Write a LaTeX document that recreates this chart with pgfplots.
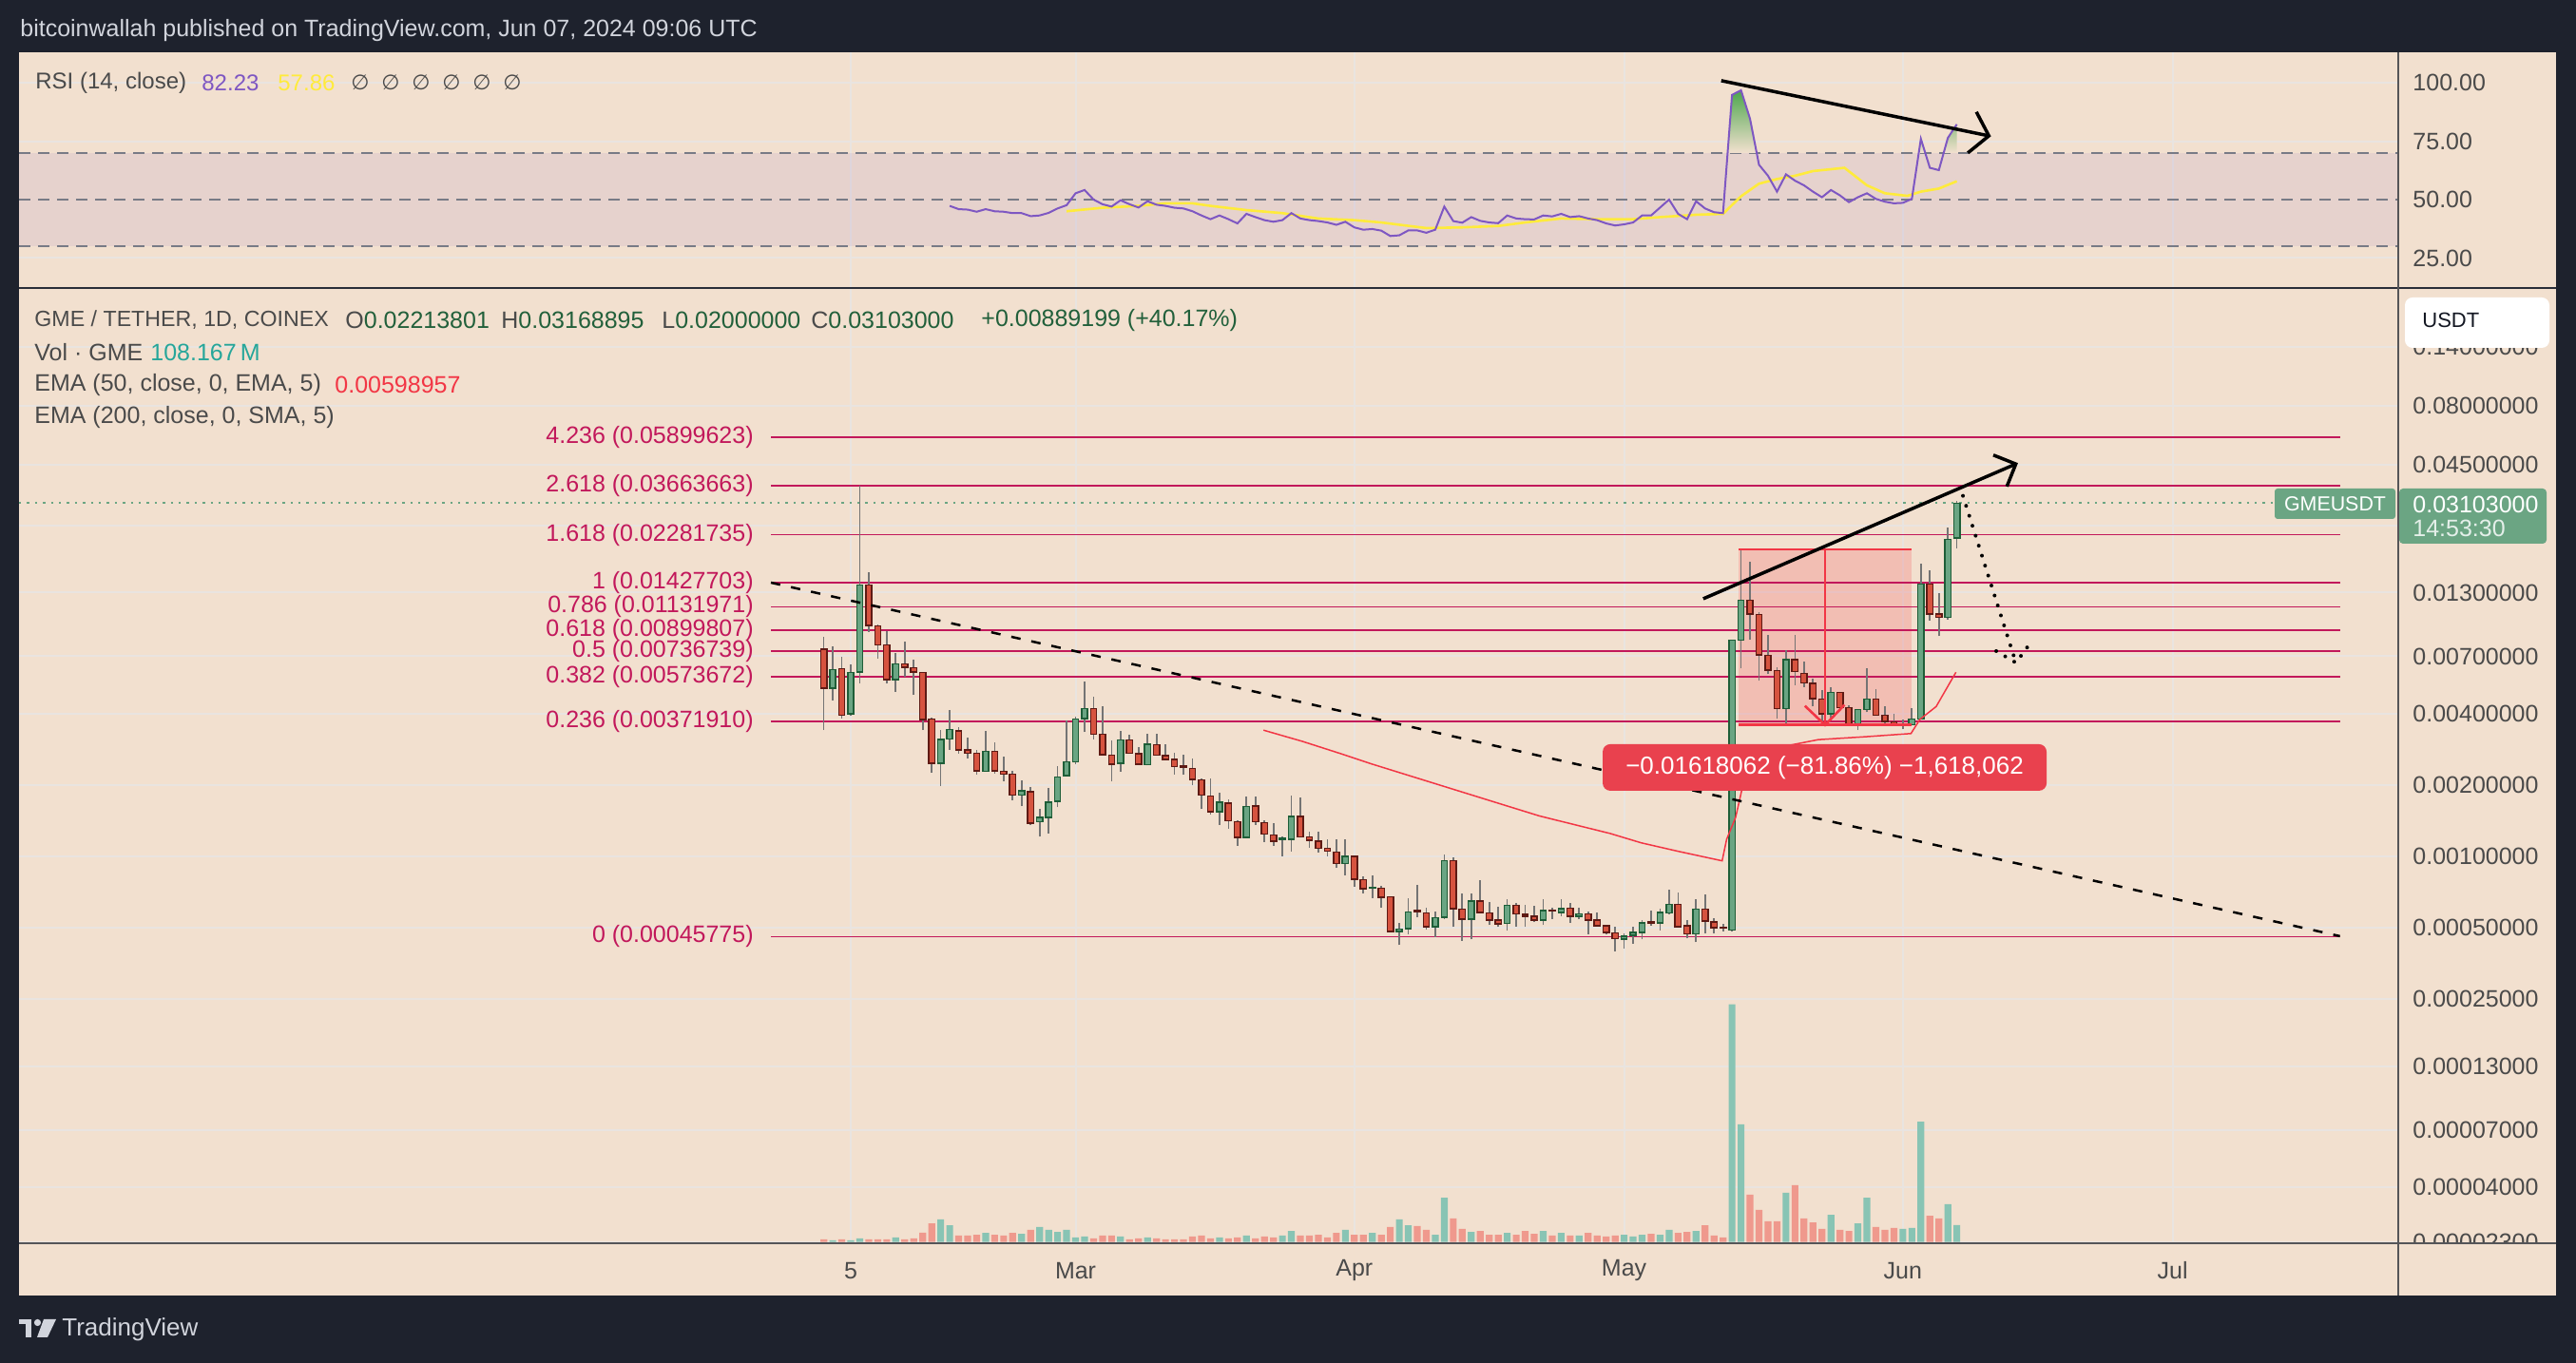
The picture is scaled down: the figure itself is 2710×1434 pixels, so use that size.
\documentclass[border=0pt]{standalone}
\usepackage{pgfplots}
\usepackage{pgfplotstable}
\pgfplotsset{compat=1.18}
\usetikzlibrary{arrows.meta}
\usepackage{fontspec}
\setmainfont{Liberation Sans}
\newfontfamily\dejavu{DejaVu Sans}

\definecolor{framec}{HTML}{1E222D}
\definecolor{panebg}{HTML}{F2E0CF}
\definecolor{gridc}{HTML}{E9E4E0}
\definecolor{sepc}{HTML}{555558}
\definecolor{sepdark}{HTML}{2A2E39}
\definecolor{fibc}{HTML}{C2185B}
\definecolor{upfill}{HTML}{6AA583}
\definecolor{upline}{HTML}{1E5E38}
\definecolor{dnfill}{HTML}{D6533F}
\definecolor{dnline}{HTML}{5E1A14}
\definecolor{wickc}{HTML}{747474}
\definecolor{volup}{HTML}{88C4B4}
\definecolor{voldn}{HTML}{EF998D}
\definecolor{emac}{HTML}{F23645}
\definecolor{rsic}{HTML}{7E57C2}
\definecolor{smac}{HTML}{FFEB3B}
\definecolor{lvlc}{HTML}{787B86}
\definecolor{txtc}{HTML}{4A4A4A}
\definecolor{valgreen}{HTML}{22603B}
\definecolor{headc}{HTML}{D1D4DC}
\definecolor{pricegreen}{HTML}{6BA583}
\definecolor{rangered}{HTML}{F23645}
\definecolor{labelred}{HTML}{E9414E}
\definecolor{volteal}{HTML}{26A69A}
\definecolor{rsigreen}{HTML}{4CA64C}
\definecolor{usdtc}{HTML}{131722}

\newcommand\fs{\fontsize{12.5pt}{15pt}\selectfont}
\newcommand\fss{\fontsize{10.7pt}{12pt}\selectfont}

% d = days since Feb 5 2024 ; g = 1 up / 0 down ; V = volume (M)
\pgfplotstableread{
d g O H L C V
-3 0 0.00748 0.00846 0.00341 0.00513 16.5
-2 1 0.00513 0.00771 0.00454 0.00614 10.4
-1 0 0.00620 0.00694 0.00383 0.00395 16.5
0 1 0.00400 0.00647 0.00391 0.00597 10.4
1 1 0.00601 0.0366 0.00538 0.01397 22.6
2 0 0.01397 0.0158 0.00886 0.00945 16.5
3 0 0.00939 0.00957 0.00682 0.00783 16.5
4 0 0.00780 0.00894 0.00536 0.00558 16.5
5 1 0.00558 0.00725 0.00496 0.00649 28.7
6 0 0.00649 0.00807 0.00575 0.00629 16.5
7 0 0.00627 0.00677 0.00480 0.00601 22.6
8 0 0.00597 0.00600 0.00341 0.00378 59.3
9 0 0.00380 0.00385 0.00225 0.00247 120
10 1 0.00247 0.00343 0.00198 0.00311 145
11 1 0.00313 0.00414 0.00282 0.00343 108
12 0 0.00338 0.00351 0.00272 0.00282 41
13 0 0.00281 0.00316 0.00258 0.00273 41
14 0 0.00273 0.00281 0.00221 0.00230 47
15 1 0.00228 0.00339 0.00228 0.00277 59
16 0 0.00277 0.00303 0.00223 0.00230 47
17 0 0.00229 0.00264 0.00208 0.00222 41
18 0 0.00222 0.00230 0.00172 0.00181 59
19 1 0.00181 0.00209 0.00163 0.00189 53
20 0 0.00187 0.00196 0.00135 0.00138 78
21 1 0.00140 0.00159 0.00121 0.00146 96
22 1 0.00146 0.00195 0.00125 0.00169 78
23 1 0.00171 0.00241 0.00161 0.00216 65
24 1 0.00219 0.00374 0.00218 0.00251 78
25 1 0.00251 0.00389 0.00245 0.00380 29
26 1 0.00382 0.00549 0.00334 0.00420 35
27 0 0.00420 0.00474 0.00311 0.00328 23
28 0 0.00327 0.00432 0.00269 0.00269 41
29 0 0.00267 0.00309 0.00207 0.00245 41
30 1 0.00247 0.00340 0.00228 0.00310 35
31 0 0.00310 0.00327 0.00271 0.00273 16.5
32 0 0.00271 0.00288 0.00245 0.00245 23
33 1 0.00244 0.00329 0.00242 0.00297 29
34 0 0.00296 0.00329 0.00267 0.00267 23
35 0 0.00266 0.00297 0.00256 0.00257 16.5
36 0 0.00256 0.00274 0.00222 0.00239 16.5
37 0 0.00241 0.00269 0.00221 0.00238 16.5
38 0 0.00235 0.00259 0.00199 0.00211 35
39 0 0.00210 0.00214 0.00158 0.00181 41
40 0 0.00180 0.00214 0.00150 0.00154 23
41 1 0.00154 0.00186 0.00136 0.00169 29
42 0 0.00168 0.00174 0.00131 0.00141 23
43 0 0.00140 0.00142 0.00111 0.00120 29
44 1 0.00120 0.00179 0.00120 0.00162 41
45 0 0.00163 0.00179 0.00136 0.00140 23
46 0 0.00139 0.00142 0.00115 0.00124 35
47 0 0.00123 0.00138 0.00111 0.00116 29
48 1 0.00118 0.00121 0.00100 0.00119 41
49 1 0.00118 0.00181 0.00105 0.00147 71
50 0 0.00147 0.00177 0.00120 0.00121 41
51 0 0.00121 0.00127 0.00109 0.00117 41
52 0 0.00116 0.00127 0.00104 0.00108 47
53 0 0.00108 0.00118 0.00100 0.00105 29
54 0 0.00104 0.00118 0.000892 0.000934 59
55 1 0.000934 0.00118 0.000834 0.00100 78
56 0 0.00100 0.00100 0.000746 0.000801 47
57 0 0.000797 0.000826 0.000697 0.000730 47
58 1 0.000734 0.000834 0.000666 0.000740 59
59 0 0.000734 0.000753 0.000607 0.000672 47
60 0 0.000676 0.000676 0.000482 0.000482 96
61 1 0.000482 0.000523 0.000422 0.000492 145
62 1 0.000494 0.000666 0.000470 0.000583 108
63 0 0.000589 0.000758 0.000553 0.000582 102
64 0 0.000576 0.000607 0.000489 0.000505 78
65 1 0.000505 0.000583 0.000456 0.000550 47
66 1 0.000553 0.00102 0.000542 0.000958 285
67 0 0.000958 0.000988 0.000502 0.000602 151
68 0 0.000598 0.000697 0.000439 0.000542 84
69 1 0.000542 0.000697 0.000446 0.000646 65
70 0 0.000646 0.000794 0.000580 0.000580 71
71 0 0.000576 0.000640 0.000512 0.000537 47
72 0 0.000537 0.000611 0.000502 0.000519 47
73 1 0.000520 0.000660 0.000485 0.000620 59
74 0 0.000620 0.000636 0.000505 0.000571 47
75 0 0.000568 0.000622 0.000502 0.000559 71
76 0 0.000557 0.000617 0.000528 0.000537 53
77 1 0.000537 0.000660 0.000512 0.000589 71
78 0 0.000594 0.000607 0.000542 0.000587 41
79 1 0.000580 0.000660 0.000559 0.000602 59
80 0 0.000605 0.000636 0.000525 0.000559 41
81 1 0.000559 0.000607 0.000542 0.000572 41
82 0 0.000572 0.000583 0.000470 0.000537 59
83 0 0.000537 0.000580 0.000508 0.000508 41
84 0 0.000508 0.000508 0.000467 0.000477 35
85 0 0.000474 0.000505 0.000398 0.000450 41
86 1 0.000447 0.000474 0.000407 0.000460 47
87 1 0.000463 0.000502 0.000426 0.000477 35
88 1 0.000477 0.000537 0.000446 0.000523 47
89 0 0.000528 0.000589 0.000509 0.000522 53
90 1 0.000523 0.000602 0.000488 0.000580 47
91 1 0.000576 0.000724 0.000571 0.000626 78
92 0 0.000626 0.000701 0.000505 0.000505 59
93 0 0.000508 0.000537 0.000450 0.000471 65
94 1 0.000471 0.000660 0.000433 0.000598 71
95 0 0.000598 0.000690 0.000474 0.000533 108
96 0 0.000528 0.000548 0.000474 0.000500 41
97 0 0.000502 0.000520 0.000482 0.000499 29
98 1 0.000489 0.00820 0.000480 0.00820 1528
99 1 0.00820 0.01955 0.00621 0.01205 756
100 0 0.01205 0.01755 0.00825 0.01056 304
101 0 0.01049 0.01075 0.00550 0.00710 206
102 0 0.00706 0.00864 0.00588 0.00612 133
103 0 0.00609 0.00631 0.00380 0.00420 133
104 1 0.00420 0.00743 0.00355 0.00676 316
105 0 0.00676 0.00859 0.00529 0.00602 365
106 0 0.00592 0.00665 0.00520 0.00541 151
107 0 0.00538 0.00561 0.00429 0.00464 126
108 0 0.00462 0.00504 0.00368 0.00400 84
109 1 0.00400 0.00517 0.00385 0.00493 175
110 0 0.00493 0.00493 0.00425 0.00425 78
111 0 0.00425 0.00433 0.00359 0.00362 71
112 1 0.00360 0.00420 0.00341 0.00416 120
113 1 0.00416 0.00625 0.00406 0.00462 285
114 0 0.00462 0.00509 0.00394 0.00395 96
115 0 0.00394 0.00429 0.00362 0.00371 78
116 0 0.00370 0.00400 0.00355 0.00359 90
117 1 0.00359 0.00377 0.00344 0.00361 84
118 1 0.00359 0.00424 0.00357 0.00380 90
119 1 0.00380 0.01728 0.00377 0.01414 774
120 0 0.01414 0.01615 0.00992 0.01056 169
121 0 0.01056 0.01294 0.00850 0.01023 151
122 1 0.01023 0.02448 0.01002 0.02177 243
123 1 0.02213801 0.03168895 0.02000000 0.03103000 108.167
}\candles

\pgfplotstableread{
d r
11 47.3
12 45.9
13 45.7
14 44.8
15 45.9
16 45.0
17 44.8
18 44.2
19 44.2
20 42.9
21 43.2
22 44.3
23 46.2
24 47.6
25 52.7
26 54.1
27 50.0
28 48.0
29 47.0
30 49.7
31 48.0
32 46.6
33 49.3
34 47.8
35 47.3
36 46.5
37 46.2
38 45.0
39 43.2
40 41.6
41 43.2
42 41.6
43 39.8
44 43.9
45 42.5
46 41.2
47 40.5
48 41.2
49 44.2
50 41.9
51 41.2
52 40.8
53 40.2
54 39.2
55 40.5
56 38.1
57 37.1
58 37.4
59 36.7
60 34.4
61 34.7
62 36.8
63 36.8
64 35.8
65 37.1
66 47.0
67 40.8
68 40.1
69 42.5
70 40.9
71 40.2
72 39.9
73 43.2
74 41.9
75 41.6
76 41.5
77 43.2
78 42.8
79 43.9
80 42.5
81 42.9
82 41.9
83 41.2
84 39.8
85 38.9
86 39.4
87 40.2
88 43.2
89 43.2
90 46.6
91 50.0
92 43.9
93 41.6
94 49.3
95 46.2
96 44.6
97 44.2
98 94.8
99 96.8
100 84.6
101 64.9
102 60.2
103 53.4
104 60.8
105 58.1
106 56.1
107 53.4
108 51.0
109 54.1
110 51.8
111 48.9
112 51.0
113 52.7
114 50.3
115 49.1
116 48.4
117 48.6
118 50.3
119 76.0
120 63.6
121 62.6
122 76.4
123 82.23
}\rsidata

\pgfplotstableread{
d s
24 45.0
28 46.5
32 47.3
35 48.4
38 48.4
40 47.3
44 45.5
48 44.2
52 41.9
56 41.2
59 40.2
64 37.8
68 38.1
72 38.7
75 40.2
79 41.9
83 41.6
87 41.6
90 42.5
94 43.5
97 43.9
99 51.4
101 56.8
103 58.8
105 60.2
107 62.2
110.5 63.6
113 56.1
115 52.7
117.5 51.6
119 53.4
121 54.7
123 57.86
}\smadata

\pgfplotstableread{
d e
45.9 0.00341
50.2 0.00306
54.4 0.00272
58 0.00245
61.8 0.00221
66.8 0.00193
72.8 0.00164
76.6 0.00148
80.5 0.00136
84.4 0.00125
87.9 0.00114
92 0.00105
96.9 0.000957
97.4 0.00118
98.4 0.00146
99.2 0.00199
100.6 0.00243
103.1 0.00288
107.6 0.00311
112.9 0.00320
117.9 0.00330
118.9 0.00379
120.7 0.00429
122.9 0.00599
}\emadata

\tikzset{
  wick/.style={draw=wickc, line width=0.85pt},
  upbody/.style={fill=upfill, draw=upline, line width=0.75pt},
  dnbody/.style={fill=dnfill, draw=dnline, line width=0.75pt},
}

\pgfplotsset{
  paneaxis/.style={scale only axis, anchor=south west, width=1251.5pt,
    xmin=-92.495, xmax=172.093, axis line style={draw=none},
    major tick length=0pt, minor tick length=0pt, tick style={draw=none}, clip=true},
  rlabels/.style={yticklabel pos=right,
    yticklabel style={anchor=west, xshift=7.5pt, inner sep=0pt, font=\fs, text=txtc}},
}

\newcommand\drawcandle[1]{%
  \pgfplotstablegetelem{#1}{d}\of\candles\let\cd\pgfplotsretval
  \pgfplotstablegetelem{#1}{g}\of\candles\let\cg\pgfplotsretval
  \pgfplotstablegetelem{#1}{O}\of\candles\let\co\pgfplotsretval
  \pgfplotstablegetelem{#1}{H}\of\candles\let\ch\pgfplotsretval
  \pgfplotstablegetelem{#1}{L}\of\candles\let\cl\pgfplotsretval
  \pgfplotstablegetelem{#1}{C}\of\candles\let\cc\pgfplotsretval
  \pgfmathsetmacro\xa{\cd-0.33}%
  \pgfmathsetmacro\xb{\cd+0.33}%
  \edef\next{%
    \noexpand\addplot[wick] coordinates {(\cd,\cl) (\cd,\ch)};%
    \noexpand\addplot[\ifnum\cg=1 upbody\else dnbody\fi] coordinates {(\xa,\co) (\xb,\co) (\xb,\cc) (\xa,\cc)} --cycle;%
  }\next
}

\begin{document}
\begin{tikzpicture}[x=0.5pt,y=0.5pt]
\useasboundingbox (0,0) rectangle (2710,1434);
\fill[framec] (0,0) rectangle (2710,1434);
\fill[panebg] (20,71) rectangle (2689,1379);

% ---------------- RSI pane ----------------
\begin{axis}[paneaxis, rlabels, at={(10pt,565.5pt)}, height=124pt,
  ymin=12.16, ymax=113.06,
  xtick={0,25,56,86,117,147}, xticklabels={},
  ytick={25,75,100}, yticklabels={25.00,75.00,100.00},
  extra y ticks={50}, extra y tick labels={50.00}, extra y tick style={grid=none},
  grid=major, grid style={gridc, line width=1pt}]
\addplot[draw=none, fill=rsic, fill opacity=0.1] coordinates {(-92.495,30) (172.093,30) (172.093,70) (-92.495,70)} --cycle;
\addplot[lvlc, line width=1pt, dash pattern=on 6pt off 4pt] coordinates {(-92.495,70) (172.093,70)};
\addplot[lvlc, line width=1pt, dash pattern=on 6pt off 4pt] coordinates {(-92.495,50) (172.093,50)};
\addplot[lvlc, line width=1pt, dash pattern=on 6pt off 4pt] coordinates {(-92.495,30) (172.093,30)};
\addplot[draw=none, top color=rsigreen, bottom color=panebg] coordinates {(97.51,70) (98,94.8) (99,96.8) (100,84.6) (100.74,70)} --cycle;
\addplot[draw=none, top color=rsigreen!35!panebg, bottom color=panebg] coordinates {(118.77,70) (119,76) (119.48,70)} --cycle;
\addplot[draw=none, top color=rsigreen!55!panebg, bottom color=panebg] coordinates {(121.54,70) (122,76.4) (123,82.23) (123,70)} --cycle;
\addplot[smac, line width=1.3pt] table[x=d,y=s] {\smadata};
\addplot[rsic, line width=1pt] table[x=d,y=r] {\rsidata};
\addplot[black, line width=1.75pt, -{Straight Barb[length=9pt,width=22pt]}] coordinates {(96.8,100.9) (126.8,77.1)};
\end{axis}

% ---------------- main pane grid + scale ----------------
\begin{axis}[paneaxis, rlabels, at={(10pt,63pt)}, height=502.5pt,
  ymode=log, ymin=2.3216e-5, ymax=0.25135,
  xtick={0,25,56,86,117,147}, xticklabels={5,Mar,Apr,May,Jun,Jul},
  xticklabel style={anchor=center, yshift=-14.35pt, inner sep=0pt, font=\fs, text=txtc},
  ytick={0.0000234,0.00004,0.00007,0.00013,0.00025,0.0005,0.001,0.002,0.004,0.007,0.013,0.025,0.045,0.08,0.142},
  yticklabels={0.00002300,0.00004000,0.00007000,0.00013000,0.00025000,0.00050000,0.00100000,0.00200000,0.00400000,0.00700000,0.01300000,{},0.04500000,0.08000000,0.14000000},
  grid=major, grid style={gridc, line width=1pt}]
\addplot[draw=none] coordinates {(0,0.001)};
\end{axis}

% ---------------- volume ----------------
\begin{axis}[paneaxis, at={(10pt,63.65pt)}, height=150pt, ymin=0, ymax=1833, hide axis]
\addplot[ybar, bar shift=0pt, bar width=0.76, fill=volup, draw=none,
  restrict expr to domain={\thisrow{g}}{0.5:1.5}] table[x=d,y=V] {\candles};
\addplot[ybar, bar shift=0pt, bar width=0.76, fill=voldn, draw=none,
  restrict expr to domain={\thisrow{g}}{-0.5:0.5}] table[x=d,y=V] {\candles};
\end{axis}

% ---------------- main pane content ----------------
\begin{axis}[paneaxis, at={(10pt,63pt)}, height=502.5pt,
  ymode=log, ymin=2.3216e-5, ymax=0.25135, hide axis]
% price range box
\addplot[draw=none, fill=rangered, fill opacity=0.2] coordinates {(98.77,0.019766) (117.97,0.019766) (117.97,0.003586) (98.77,0.003586)} --cycle;
% fibonacci levels
\pgfplotsinvokeforeach{0.05899623,0.03663663,0.02281735,0.01427703,0.01131971,0.00899807,0.00736739,0.00573672,0.0037191,0.00045775}{
  \addplot[fibc, line width=0.85pt] coordinates {(-8.88,#1) (165.6,#1)};
}
\node[anchor=east, inner sep=0pt, text=fibc, font=\fs] at (axis cs:-10.78,0.05899623) {4.236 (0.05899623)};
\node[anchor=east, inner sep=0pt, text=fibc, font=\fs] at (axis cs:-10.78,0.03663663) {2.618 (0.03663663)};
\node[anchor=east, inner sep=0pt, text=fibc, font=\fs] at (axis cs:-10.78,0.02281735) {1.618 (0.02281735)};
\node[anchor=east, inner sep=0pt, text=fibc, font=\fs] at (axis cs:-10.78,0.01427703) {1 (0.01427703)};
\node[anchor=east, inner sep=0pt, text=fibc, font=\fs] at (axis cs:-10.78,0.01131971) {0.786 (0.01131971)};
\node[anchor=east, inner sep=0pt, text=fibc, font=\fs] at (axis cs:-10.78,0.00899807) {0.618 (0.00899807)};
\node[anchor=east, inner sep=0pt, text=fibc, font=\fs] at (axis cs:-10.78,0.00736739) {0.5 (0.00736739)};
\node[anchor=east, inner sep=0pt, text=fibc, font=\fs] at (axis cs:-10.78,0.00573672) {0.382 (0.00573672)};
\node[anchor=east, inner sep=0pt, text=fibc, font=\fs] at (axis cs:-10.78,0.0037191) {0.236 (0.00371910)};
\node[anchor=east, inner sep=0pt, text=fibc, font=\fs] at (axis cs:-10.78,0.00045775) {0 (0.00045775)};
% current price line
\addplot[pricegreen, line width=1pt, dash pattern=on 1.2pt off 3pt] coordinates {(-92.495,0.03103) (158.35,0.03103)};
% candles
\pgfplotsinvokeforeach{0,...,126}{\drawcandle{#1}}
% EMA 50
\addplot[emac, line width=0.75pt] table[x=d,y=e] {\emadata};
% descending trend line
\addplot[black, line width=1.25pt, dash pattern=on 5pt off 5.8pt] coordinates {(-8.88,0.01432) (165.6,0.000460)};
% range tool lines
\addplot[rangered, line width=1.3pt] coordinates {(98.77,0.019766) (117.97,0.019766)};
\addplot[rangered, line width=1.3pt] coordinates {(98.77,0.003586) (117.97,0.003586)};
\addplot[rangered, line width=1.3pt] coordinates {(108.35,0.019766) (108.35,0.003586)};
\addplot[rangered, line width=1.3pt] coordinates {(106.1,0.00432) (108.35,0.003586) (110.5,0.00436)};
% rising arrow
\addplot[black, line width=1.75pt, -{Straight Barb[length=9pt,width=18pt]}] coordinates {(94.8,0.01224) (129.8,0.0458)};
% dotted projection
\addplot[black, line width=2pt, line cap=round, dash pattern=on 0pt off 5.5pt] coordinates {(123.68,0.0333) (129.57,0.00657)};
\addplot[black, line width=2pt, line cap=round, dash pattern=on 0pt off 5.5pt] coordinates {(127.38,0.00736) (129.57,0.00657) (131.08,0.00787)};
% range label
\node[fill=labelred, rounded corners=4pt, text=white, inner sep=0pt,
  minimum width=233.5pt, minimum height=24.5pt, font=\fontsize{13pt}{15pt}\selectfont]
  at (axis cs:108.3,0.002373) {−0.01618062 (−81.86\%) −1,618,062};
\end{axis}

% ---------------- overlays ----------------
\fill[panebg] (2524,71) rectangle (2689,125);
\draw[sepc, line width=1pt] (20,126) -- (2689,126);
\draw[sepdark, line width=1.2pt] (20,1131) -- (2689,1131);
\draw[sepc, line width=1pt] (2523,71) -- (2523,1379);

\fill[white, rounded corners=4pt] (2530,1068) rectangle (2682,1121);
\node[anchor=west, inner sep=0pt, text=usdtc, font=\fontsize{11pt}{13pt}\selectfont] at (2548,1097) {USDT};

\fill[pricegreen, rounded corners=2pt] (2524,862) rectangle (2679,920);
\node[anchor=west, inner sep=0pt, text=white, font=\fs] at (2538,903) {0.03103000};
\node[anchor=west, inner sep=0pt, text=white!82!pricegreen, font=\fs] at (2538,878) {14:53:30};
\fill[pricegreen, rounded corners=1.5pt] (2393,888) rectangle (2520,920);
\node[inner sep=0pt, text=white, font=\fss] at (2456.5,904) {GMEUSDT};

% header
\node[anchor=west, inner sep=0pt, text=headc, font=\fs] at (21,1402) {bitcoinwallah published on TradingView.com, Jun 07, 2024 09:06 UTC};

% RSI legend
\node[anchor=west, inner sep=0pt, text=txtc, font=\fontsize{12pt}{14pt}\selectfont] at (37,1347) {RSI (14, close)};
\node[anchor=west, inner sep=0pt, text=rsic, font=\fontsize{12pt}{14pt}\selectfont] at (212,1347) {82.23};
\node[anchor=west, inner sep=0pt, text=smac, font=\fontsize{12pt}{14pt}\selectfont] at (292,1347) {57.86};
\foreach \xx in {369,401,433,465,497,529}
  \node[anchor=west, inner sep=0pt, text=txtc, font=\dejavu\fontsize{11pt}{13pt}\selectfont] at (\xx,1347) {∅};

% main legend
\node[anchor=west, inner sep=0pt, text=txtc, font=\fontsize{11.6pt}{14pt}\selectfont] at (36,1097) {GME / TETHER, 1D, COINEX};
\node[anchor=west, inner sep=0pt, text=txtc, font=\fs] at (363,1097) {O\textcolor{valgreen}{0.02213801}};
\node[anchor=west, inner sep=0pt, text=txtc, font=\fs] at (527,1097) {H\textcolor{valgreen}{0.03168895}};
\node[anchor=west, inner sep=0pt, text=txtc, font=\fs] at (696,1097) {L\textcolor{valgreen}{0.02000000}};
\node[anchor=west, inner sep=0pt, text=txtc, font=\fs] at (853,1097) {C\textcolor{valgreen}{0.03103000}};
\node[anchor=west, inner sep=0pt, text=valgreen, font=\fs] at (1032,1097) {+0.00889199 (+40.17\%)};
\node[anchor=west, inner sep=0pt, text=txtc, font=\fs] at (36,1063) {Vol · GME};
\node[anchor=west, inner sep=0pt, text=volteal, font=\fs] at (158,1063) {108.167\,M};
\node[anchor=west, inner sep=0pt, text=txtc, font=\fs] at (36,1029) {EMA (50, close, 0, EMA, 5)};
\node[anchor=west, inner sep=0pt, text=emac, font=\fs] at (352,1029) {0.00598957};
\node[anchor=west, inner sep=0pt, text=txtc, font=\fs] at (36,995) {EMA (200, close, 0, SMA, 5)};

% footer logo
\fill[headc] (20,41) rectangle (33,46);
\fill[headc] (27,27) rectangle (33,46);
\fill[headc] (39.5,42.5) circle (3.6);
\fill[headc] (46,46) -- (59,46) -- (50,27) -- (39,27) -- cycle;
\node[anchor=west, inner sep=0pt, text=headc, font=\fontsize{13pt}{15pt}\selectfont] at (65,35) {TradingView};
\end{tikzpicture}
\end{document}
